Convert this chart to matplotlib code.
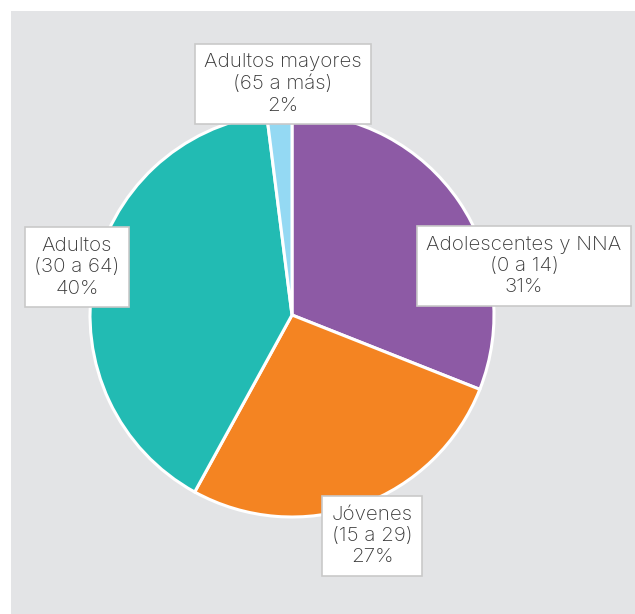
import matplotlib
matplotlib.use("Agg")
import matplotlib.pyplot as plt
from matplotlib.patches import Rectangle

# Data
labels = ["Adolescentes y NNA\n(0 a 14)", "Jóvenes\n(15 a 29)", "Adultos\n(30 a 64)", "Adultos mayores\n(65 a más)"]
shares = [31, 27, 40, 2]
colors = ["#8d5aa5", "#f48422", "#22bbb3", "#94d9f3"]

W, H = 635, 614
fig = plt.figure(figsize=(W / 100, H / 100), dpi=100)
fig.patch.set_facecolor("white")

# gray panel behind everything
fig.patches.append(Rectangle((11 / W, 0), 1, 1 - 11 / H, transform=fig.transFigure,
                             facecolor="#e3e4e6", edgecolor="none", zorder=-5))

# pie axes, centre (292, 315) px, radius 202 px
cx, cy, r = 292, 315, 202
ax = fig.add_axes([(cx - r) / W, (H - cy - r) / H, 2 * r / W, 2 * r / H], zorder=1)
ax.set_facecolor("none")
ax.pie(shares, colors=colors, startangle=90, counterclock=False,
       wedgeprops=dict(edgecolor="white", linewidth=2.2))
ax.set_xlim(-1, 1)
ax.set_ylim(-1, 1)
ax.set_aspect("equal")
ax.axis("off")

# label boxes (centre position in px)
label_pos = [(524, 266), (372, 536), (77, 267), (283, 84)]
for lab, val, (x, y) in zip(labels, shares, label_pos):
    fig.text(x / W, 1 - y / H, f"{lab}\n{val}%", ha="center", va="center",
             family="Inter", fontweight="light", fontsize=14.8, color="#383838",
             linespacing=1.25, zorder=5,
             bbox=dict(boxstyle="square,pad=0.45", facecolor="white",
                       edgecolor="#c9c9c9", linewidth=1.2))

plt.savefig("out.png", dpi=100)
